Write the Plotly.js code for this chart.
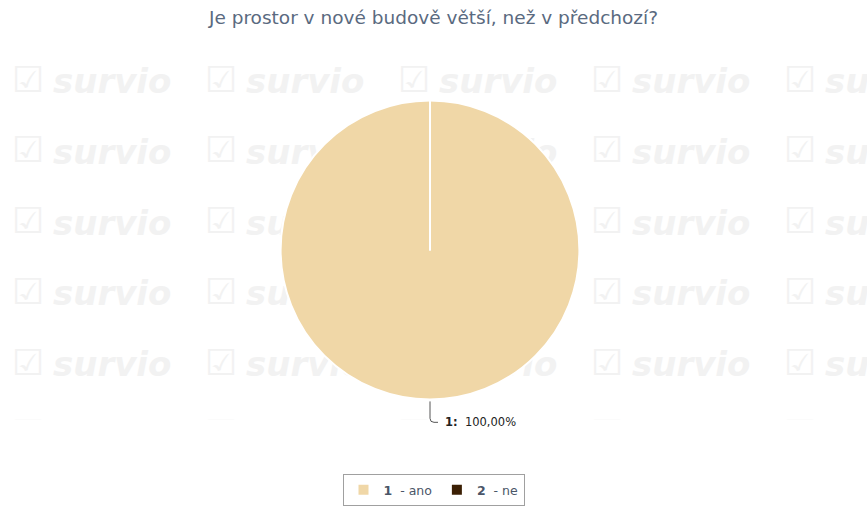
<!DOCTYPE html>
<html><head><meta charset="utf-8">
<script src="https://cdn.plot.ly/plotly-3.0.1.min.js"></script>
<style>html,body{margin:0;padding:0;background:#fff;}#chart{width:867px;height:506px;}</style>
</head><body><div id="chart"></div>
<script>
const categories = ['1', '2'];
const answers = ['ano', 'ne'];
const values = [100, 0];
const colors = ['#F0D7A7', '#3B1F04'];
const chartTitle = 'Je prostor v nové budově větší, než v předchozí?';

const W = 867, H = 506;
const cx = 430, cy = 251, r = 150;
const clipBottom = 421;
const px = x => x / W, py = y => 1 - y / H;

const total = values.reduce((a, b) => a + b, 0);
const legendLabels = categories.map((c, i) => '<b>' + c + '</b>  - ' + answers[i]);

// watermark grid (decoration, drawn under the pie)
const colsX = [15, 208, 401, 594, 787];
const rowsY = [82, 153, 224, 295, 366, 437];
const wmX1 = [], wmY1 = [], wmX2 = [], wmY2 = [];
rowsY.forEach(y => colsX.forEach(x => {
  wmX1.push(x - 3); wmY1.push(y + 1);
  wmX2.push(x + 38); wmY2.push(y + 3);
}));
const wmColor = '#f2f2f2';
const wmChecks = {type:'scatter', mode:'text', x: wmX1, y: wmY1, text: wmX1.map(() => '☑'),
  textposition:'middle right', textfont:{family:'DejaVu Sans', size:36, color: wmColor},
  hoverinfo:'skip', showlegend:false, cliponaxis:true, xaxis:'x', yaxis:'y'};
const wmWords = {type:'scatter', mode:'text', x: wmX2, y: wmY2, text: wmX2.map(() => '<b><i>survio</i></b>'),
  textposition:'middle right', textfont:{family:'DejaVu Sans', size:34, color: wmColor},
  hoverinfo:'skip', showlegend:false, cliponaxis:true, xaxis:'x', yaxis:'y'};

const annotations = [];
const pct = (values[0] / total * 100).toFixed(2).replace('.', ',');
annotations.push({xref:'paper', yref:'paper', x: px(443), y: py(424), xanchor:'left', yanchor:'middle',
  text:'<b>' + categories[0] + ':</b>  ' + pct + '%', showarrow:false,
  font:{family:'DejaVu Sans', size:11.5, color:'#222'}});

const shapes = [{type:'path', xref:'paper', yref:'paper',
  path: 'M ' + px(cx) + ' ' + py(cy + r + 2) + ' L ' + px(cx) + ' ' + py(420) + ' Q ' + px(cx) + ' ' + py(424) + ' ' + px(cx + 4) + ' ' + py(424) + ' L ' + px(cx + 8) + ' ' + py(424),
  line:{color:'#555', width:1}}];

const trace = {
  type:'pie', labels: legendLabels, values: values, sort:false, direction:'clockwise', rotation:0,
  marker:{colors: colors, line:{color:'#ffffff', width:2}},
  textinfo:'none', hoverinfo:'label+percent',
  domain:{x:[px(cx - r), px(cx + r)], y:[py(cy + r), py(cy - r)]}
};

const layout = {
  width: W, height: H, margin:{l:0, r:0, t:0, b:0},
  paper_bgcolor:'#fff', plot_bgcolor:'rgba(0,0,0,0)',
  font:{family:'DejaVu Sans', color:'#4a5668'},
  title:{text: chartTitle, x:0.5, xanchor:'center', y: 1 - 18/H, yanchor:'middle',
    font:{family:'DejaVu Sans', size:18.5, color:'#5a6a80'}},
  xaxis:{range:[0, W], domain:[0, 1], visible:false, fixedrange:true},
  yaxis:{range:[clipBottom, 0], domain:[py(clipBottom), 1], visible:false, fixedrange:true},
  showlegend:true,
  legend:{orientation:'h', x:0.5, xanchor:'center', y: py(476), yanchor:'top',
    bordercolor:'#a0a0a0', borderwidth:1, bgcolor:'#fff',
    font:{family:'DejaVu Sans', size:12.5, color:'#4a5668'}, itemclick:false},
  annotations: annotations, shapes: shapes
};
Plotly.newPlot('chart', [wmChecks, wmWords, trace], layout, {displayModeBar:false, staticPlot:true});
</script></body></html>
